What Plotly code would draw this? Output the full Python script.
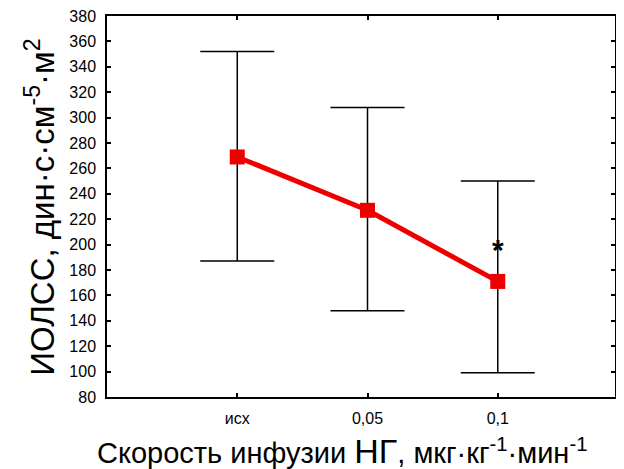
import plotly.graph_objects as go

categories = ["исх", "0,05", "0,1"]
x_pos = [1, 2, 3]
means = [269, 227, 171]
upper = [352, 308, 250]
lower = [187, 148, 99]
y_ticks = list(range(80, 381, 20))

err_plus = [u - m for u, m in zip(upper, means)]
err_minus = [m - l for m, l in zip(means, lower)]

fig = go.Figure()
fig.add_trace(go.Scatter(
    x=x_pos, y=means, mode="lines+markers",
    line=dict(color="#ee0000", width=5),
    marker=dict(symbol="square", size=15, color="#ee0000"),
    error_y=dict(type="data", symmetric=False, array=err_plus, arrayminus=err_minus,
                 color="black", thickness=1.5, width=37),
    showlegend=False,
))

fig.add_annotation(x=3, y=198, text="<b>*</b>", showarrow=False,
                   font=dict(size=30, color="black", family="Liberation Sans"), yshift=-2)

fig.add_annotation(xref="paper", yref="paper", x=-0.132, y=0.499, textangle=-90,
                   xanchor="center", yanchor="middle",
                   text="ИОЛСС, дин·с·см<sup>-5</sup>·м<sup>2</sup>", showarrow=False,
                   font=dict(size=33, color="black", family="Liberation Sans"))
fig.add_annotation(xref="paper", yref="paper", x=0.463, y=-0.142, yanchor="middle",
                   text="Скорость инфузии <span style='font-size:34px'>НГ</span>, мкг·кг<sup>-1</sup>·мин<sup>-1</sup>",
                   showarrow=False,
                   font=dict(size=29, color="black", family="Liberation Sans"))

# page body has an 8px margin, so the figure is 8px smaller and margins shifted
fig.update_layout(
    width=616, height=461,
    margin=dict(l=99, r=9, t=8, b=72, autoexpand=False),
    plot_bgcolor="white", paper_bgcolor="white",
    font=dict(family="Liberation Sans", color="black", size=12),
)
fig.update_xaxes(range=[0, 3.9], tickvals=x_pos, ticktext=categories, automargin=False,
                 ticks="inside", ticklen=4, tickcolor="black", tickwidth=1.5,
                 showline=True, linecolor="black", linewidth=1.5, mirror="allticks",
                 showgrid=False, zeroline=False, ticklabelstandoff=6,
                 tickfont=dict(size=16, color="black"))
fig.update_yaxes(range=[80, 380], tickvals=y_ticks, automargin=False,
                 ticks="inside", ticklen=4, tickcolor="black", tickwidth=1.5,
                 showline=True, linecolor="black", linewidth=1.5, mirror="allticks",
                 showgrid=False, zeroline=False, ticklabelstandoff=6,
                 ticklabeloverflow="allow",
                 tickfont=dict(size=16, color="black"))

fig.write_html("out.html")
